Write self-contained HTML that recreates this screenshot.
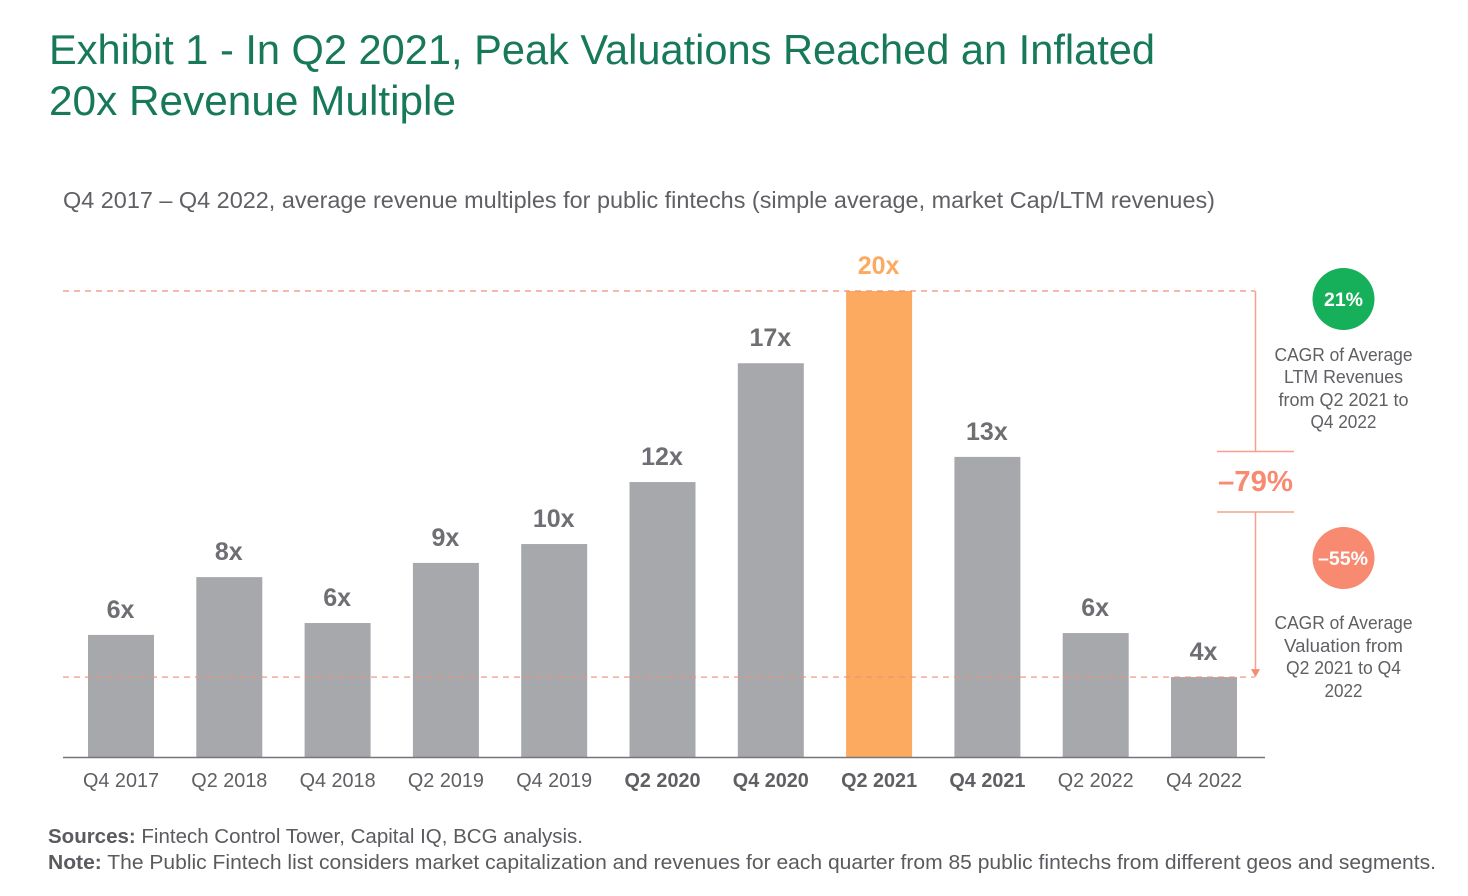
<!DOCTYPE html>
<html lang="en">
<head>
<meta charset="utf-8">
<title>Exhibit 1</title>
<style>
html,body{margin:0;padding:0;background:#fff;width:1468px;height:896px;overflow:hidden}
svg{display:block;font-family:"Liberation Sans",sans-serif}
</style>
</head>
<body>
<svg id="chart" width="1468" height="896" viewBox="0 0 1468 896" xmlns="http://www.w3.org/2000/svg">
<text x="49" y="64" font-size="42" fill="#17795a" textLength="1106" lengthAdjust="spacingAndGlyphs">Exhibit 1 - In Q2 2021, Peak Valuations Reached an Inflated</text>
<text x="49" y="115" font-size="42" fill="#17795a" textLength="407" lengthAdjust="spacingAndGlyphs">20x Revenue Multiple</text>
<text x="63" y="208" font-size="23" fill="#5f5f64" textLength="1152" lengthAdjust="spacingAndGlyphs">Q4 2017 – Q4 2022, average revenue multiples for public fintechs (simple average, market Cap/LTM revenues)</text>
<g id="bars"></g>
<g id="refs"></g>
<line x1="63" x2="1265" y1="757.5" y2="757.5" stroke="#77777b" stroke-width="1.5"/>
<g id="xlabels"></g>
<g id="vlabels"></g>
<line x1="1217" x2="1294" y1="451.5" y2="451.5" stroke="#f8a08c" stroke-width="1.5"/>
<line x1="1217" x2="1294" y1="512" y2="512" stroke="#f8a08c" stroke-width="1.5"/>
<text x="1255.5" y="491" font-size="29" font-weight="bold" fill="#f78a70" text-anchor="middle" textLength="75" lengthAdjust="spacingAndGlyphs">–79%</text>
<circle cx="1343.5" cy="299" r="31" fill="#17b05a"/>
<text x="1343.5" y="306" font-size="19" font-weight="bold" fill="#fff" text-anchor="middle" textLength="39" lengthAdjust="spacingAndGlyphs">21%</text>
<g font-size="18" fill="#5f5f64" text-anchor="middle">
<text x="1343.5" y="361" textLength="138" lengthAdjust="spacingAndGlyphs">CAGR of Average</text>
<text x="1343.5" y="383" textLength="119" lengthAdjust="spacingAndGlyphs">LTM Revenues</text>
<text x="1343.5" y="406" textLength="130" lengthAdjust="spacingAndGlyphs">from Q2 2021 to</text>
<text x="1343.5" y="428" textLength="66" lengthAdjust="spacingAndGlyphs">Q4 2022</text>
</g>
<circle cx="1343.5" cy="558" r="31" fill="#f78a70"/>
<text x="1343" y="565" font-size="19" font-weight="bold" fill="#fff" text-anchor="middle" textLength="50" lengthAdjust="spacingAndGlyphs">–55%</text>
<g font-size="18" fill="#5f5f64" text-anchor="middle">
<text x="1343.5" y="629" textLength="138" lengthAdjust="spacingAndGlyphs">CAGR of Average</text>
<text x="1343.5" y="652" textLength="119" lengthAdjust="spacingAndGlyphs">Valuation from</text>
<text x="1343.5" y="674" textLength="115" lengthAdjust="spacingAndGlyphs">Q2 2021 to Q4</text>
<text x="1343.5" y="697" textLength="38" lengthAdjust="spacingAndGlyphs">2022</text>
</g>
<text x="48" y="843" font-size="20.5" fill="#5a5a5f" textLength="535" lengthAdjust="spacingAndGlyphs"><tspan font-weight="bold">Sources:</tspan> Fintech Control Tower, Capital IQ, BCG analysis.</text>
<text x="48" y="869" font-size="20.5" fill="#5a5a5f" textLength="1388" lengthAdjust="spacingAndGlyphs"><tspan font-weight="bold">Note:</tspan> The Public Fintech list considers market capitalization and revenues for each quarter from 85 public fintechs from different geos and segments.</text>
</svg>
<script>
const categories = ["Q4 2017","Q2 2018","Q4 2018","Q2 2019","Q4 2019","Q2 2020","Q4 2020","Q2 2021","Q4 2021","Q2 2022","Q4 2022"];
const multiples = [5.24,7.72,5.75,8.33,9.14,11.8,16.9,20,12.88,5.32,3.43];
const printedLabels = ["6x","8x","6x","9x","10x","12x","17x","20x","13x","6x","4x"];
const boldCategories = ["Q2 2020","Q4 2020","Q2 2021","Q4 2021"];
const peakCategory = "Q2 2021";
const lastCategory = "Q4 2022";

const NS = "http://www.w3.org/2000/svg";
const xScale = i => 121 + i * 108.3;
const yScale = v => 757 - v * 23.3;
const BAR_W = 66;
function make(tag, attrs, parent, text) {
  const el = document.createElementNS(NS, tag);
  for (const k in attrs) el.setAttribute(k, attrs[k]);
  if (text !== undefined) el.textContent = text;
  parent.appendChild(el);
  return el;
}
const barsG = document.getElementById("bars");
const xG = document.getElementById("xlabels");
const vG = document.getElementById("vlabels");
const refsG = document.getElementById("refs");
categories.forEach((c, i) => {
  const peak = c === peakCategory;
  const y = yScale(multiples[i]);
  const bar = make("rect", {x: xScale(i) - BAR_W / 2, y: y, width: BAR_W, height: yScale(0) - y, fill: peak ? "#fbaa60" : "#a7a8ac"}, barsG);
  
  
  const bold = boldCategories.includes(c);
  const tick = make("text", {x: xScale(i), y: 787, "font-size": 20, "font-weight": bold ? "bold" : "normal", fill: "#5f5f64", "text-anchor": "middle", textLength: 76, lengthAdjust: "spacingAndGlyphs"}, xG, c);
  
  
  const val = make("text", {x: xScale(i) - 0.5, y: y - 17, "font-size": 25, "font-weight": "bold", fill: peak ? "#fbaa60" : "#6e6e73", "text-anchor": "middle"}, vG, printedLabels[i]);
  
  
});
const peakY = yScale(multiples[categories.indexOf(peakCategory)]);
const lastY = yScale(multiples[categories.indexOf(lastCategory)]);
const dashStyle = {stroke: "#ee8f7b", "stroke-width": 1.2, "stroke-dasharray": "6 5"};
const peakLine = make("line", Object.assign({x1: 63, x2: 1255, y1: peakY, y2: peakY}, dashStyle), refsG);


const lastLine = make("line", Object.assign({x1: 63, x2: 1255, y1: lastY, y2: lastY}, dashStyle), refsG);


const arrowTop = make("line", {x1: 1255.5, x2: 1255.5, y1: peakY, y2: 451, stroke: "#f8a08c", "stroke-width": 1.5}, refsG);


const arrowBottom = make("line", {x1: 1255.5, x2: 1255.5, y1: 512, y2: lastY - 7, stroke: "#f8a08c", "stroke-width": 1.5}, refsG);


const head = make("polygon", {points: `1251,${lastY - 8} 1260,${lastY - 8} 1255.5,${lastY}`, fill: "#f78a70"}, refsG);


</script>
</body>
</html>
